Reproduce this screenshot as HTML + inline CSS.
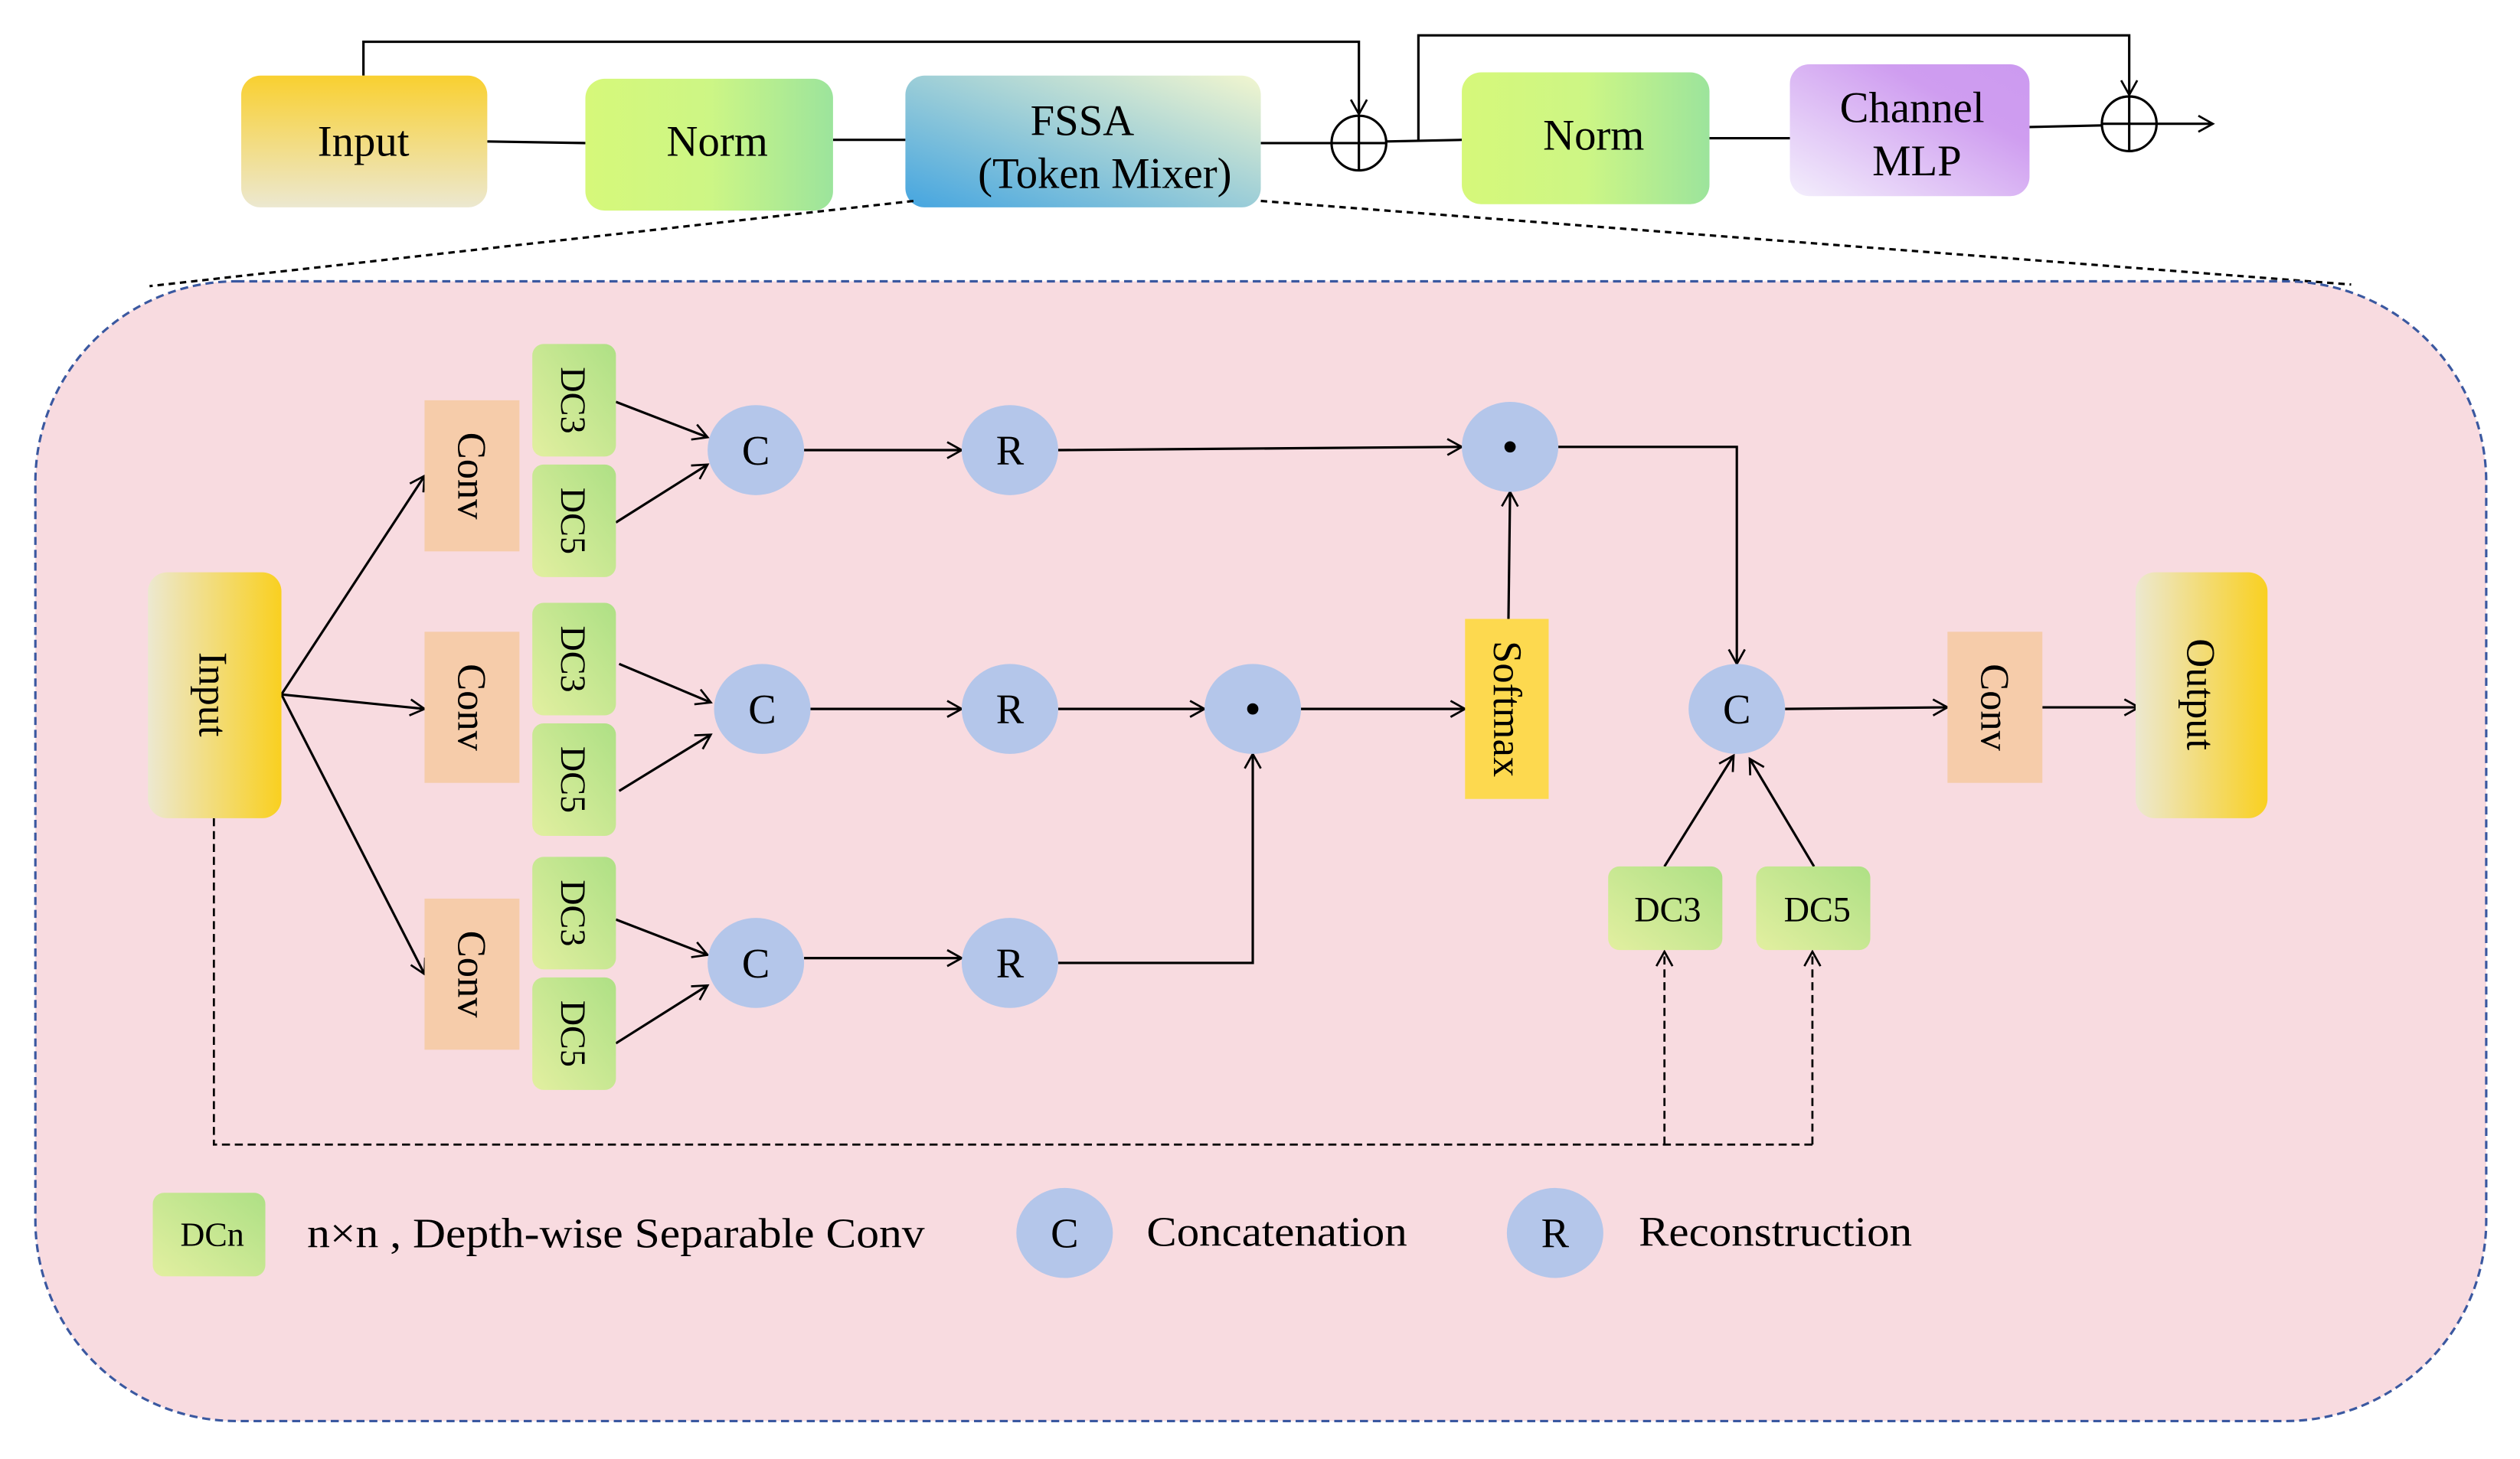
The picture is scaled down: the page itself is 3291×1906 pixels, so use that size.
<!DOCTYPE html>
<html><head><meta charset="utf-8"><style>html,body{margin:0;padding:0;background:#fff}svg{display:block}text{font-family:"Liberation Serif",serif}</style></head><body>
<svg width="3291" height="1906" viewBox="0 0 1567 907.6" preserveAspectRatio="none" xmlns="http://www.w3.org/2000/svg">
<defs>
<linearGradient id="gin" x1="0" y1="0" x2="0" y2="1"><stop offset="0" stop-color="#f9d030"/><stop offset="1" stop-color="#ece8d0"/></linearGradient>
<linearGradient id="gnorm" x1="0" y1="0" x2="1" y2="0"><stop offset="0" stop-color="#d6f87a"/><stop offset="0.5" stop-color="#cdf685"/><stop offset="1" stop-color="#9ce49c"/></linearGradient>
<linearGradient id="gfs" x1="0" y1="1" x2="1" y2="0"><stop offset="0" stop-color="#45a5e0"/><stop offset="1" stop-color="#f2f6cf"/></linearGradient>
<linearGradient id="gmlp" x1="0" y1="1" x2="1" y2="0"><stop offset="0" stop-color="#f3eefc"/><stop offset="0.7" stop-color="#cf9df0"/><stop offset="1" stop-color="#cc9af0"/></linearGradient>
<linearGradient id="ginh" x1="0" y1="0" x2="1" y2="0"><stop offset="0" stop-color="#ece8d0"/><stop offset="1" stop-color="#f9d020"/></linearGradient>
<linearGradient id="gdc" x1="0" y1="1" x2="1" y2="0"><stop offset="0" stop-color="#e2efa0"/><stop offset="1" stop-color="#aee085"/></linearGradient>
<marker id="ar" markerWidth="12" markerHeight="12" refX="10" refY="6" orient="auto" markerUnits="userSpaceOnUse"><path d="M1,1 L10,6 L1,11" fill="none" stroke="#000" stroke-width="1.3"/></marker>
</defs>
<g stroke="#000" stroke-width="1.5" fill="none">
<polyline points="226,47 226,26 845,26 845,71" marker-end="url(#ar)"/>
<polyline points="882,88 882,22 1324,22 1324,59" marker-end="url(#ar)"/>
<line x1="303" y1="88" x2="364" y2="89"/><line x1="518" y1="87" x2="563" y2="87"/>
<line x1="784" y1="89" x2="828" y2="89"/><line x1="862" y1="88" x2="909" y2="87"/>
<line x1="1063" y1="86" x2="1113" y2="86"/><line x1="1262" y1="79" x2="1307" y2="78"/>
<line x1="1341" y1="77" x2="1376" y2="77" marker-end="url(#ar)"/>
<circle cx="845" cy="89" r="17"/><line x1="828" y1="89" x2="862" y2="89"/><line x1="845" y1="72" x2="845" y2="106"/>
<circle cx="1324" cy="77" r="17"/><line x1="1307" y1="77" x2="1341" y2="77"/><line x1="1324" y1="60" x2="1324" y2="94"/>
</g>
<rect x="150" y="47" width="153" height="82" rx="12" fill="url(#gin)"/>
<rect x="364" y="49" width="154" height="82" rx="12" fill="url(#gnorm)"/>
<rect x="563" y="47" width="221" height="82" rx="12" fill="url(#gfs)"/>
<rect x="909" y="45" width="154" height="82" rx="12" fill="url(#gnorm)"/>
<rect x="1113" y="40" width="149" height="82" rx="12" fill="url(#gmlp)"/>
<g font-size="27" text-anchor="middle" fill="#000">
<text x="226" y="97">Input</text><text x="446" y="97">Norm</text>
<text x="673" y="84">FSSA</text><text x="687" y="117">(Token Mixer)</text>
<text x="991" y="93">Norm</text><text x="1189" y="76">Channel</text><text x="1192" y="109">MLP</text>
</g>
<g stroke="#000" stroke-width="1.5" stroke-dasharray="4,3" fill="none">
<line x1="568" y1="125" x2="93" y2="178"/><line x1="784" y1="125" x2="1462" y2="177"/>
</g>
<rect x="22" y="175" width="1524" height="709" rx="125" fill="#f8dbe0" stroke="#3a58a0" stroke-width="1.5" stroke-dasharray="5,3"/>
<g stroke="#000" stroke-width="1.5" fill="none">
<line x1="175" y1="432" x2="264" y2="296" marker-end="url(#ar)"/>
<line x1="175" y1="432" x2="264" y2="441" marker-end="url(#ar)"/>
<line x1="175" y1="432" x2="264" y2="606" marker-end="url(#ar)"/>
<line x1="383" y1="250" x2="440" y2="272" marker-end="url(#ar)"/>
<line x1="383" y1="325" x2="440" y2="289" marker-end="url(#ar)"/>
<line x1="385" y1="413" x2="442" y2="437" marker-end="url(#ar)"/>
<line x1="385" y1="492" x2="442" y2="457" marker-end="url(#ar)"/>
<line x1="383" y1="572" x2="440" y2="594" marker-end="url(#ar)"/>
<line x1="383" y1="649" x2="440" y2="613" marker-end="url(#ar)"/>
<line x1="500" y1="280" x2="598" y2="280" marker-end="url(#ar)"/>
<line x1="504" y1="441" x2="598" y2="441" marker-end="url(#ar)"/>
<line x1="500" y1="596" x2="598" y2="596" marker-end="url(#ar)"/>
<line x1="658" y1="280" x2="909" y2="278" marker-end="url(#ar)"/>
<line x1="658" y1="441" x2="749" y2="441" marker-end="url(#ar)"/>
<polyline points="658,599 779,599 779,469" marker-end="url(#ar)"/>
<line x1="809" y1="441" x2="911" y2="441" marker-end="url(#ar)"/>
<line x1="938" y1="385" x2="939" y2="306" marker-end="url(#ar)"/>
<polyline points="969,278 1080,278 1080,413" marker-end="url(#ar)"/>
<line x1="1110" y1="441" x2="1211" y2="440" marker-end="url(#ar)"/>
<line x1="1270" y1="440" x2="1330" y2="440" marker-end="url(#ar)"/>
<line x1="1035" y1="539" x2="1078" y2="470" marker-end="url(#ar)"/>
<line x1="1128" y1="539" x2="1088" y2="472" marker-end="url(#ar)"/>
</g>
<g stroke="#000" stroke-width="1.3" fill="none" stroke-dasharray="5,3">
<polyline points="133,509 133,712 1127,712"/>
<polyline points="1035,712 1035,592" marker-end="url(#ar)"/>
<polyline points="1127,712 1127,592" marker-end="url(#ar)"/>
</g>
<rect x="92" y="356" width="83" height="153" rx="12" fill="url(#ginh)"/>
<g fill="#f6ccaa"><rect x="264" y="249" width="59" height="94"/><rect x="264" y="393" width="59" height="94"/><rect x="264" y="559" width="59" height="94"/><rect x="1211" y="393" width="59" height="94"/></g>
<g fill="url(#gdc)">
<rect x="331" y="214" width="52" height="70" rx="7"/><rect x="331" y="289" width="52" height="70" rx="7"/>
<rect x="331" y="375" width="52" height="70" rx="7"/><rect x="331" y="450" width="52" height="70" rx="7"/>
<rect x="331" y="533" width="52" height="70" rx="7"/><rect x="331" y="608" width="52" height="70" rx="7"/>
<rect x="1000" y="539" width="71" height="52" rx="7"/><rect x="1092" y="539" width="71" height="52" rx="7"/>
<rect x="95" y="742" width="70" height="52" rx="7"/>
</g>
<rect x="911" y="385" width="52" height="112" fill="#fdd94f"/>
<rect x="1328" y="356" width="82" height="153" rx="12" fill="url(#ginh)"/>
<g fill="#b4c6ea">
<ellipse cx="470" cy="280" rx="30" ry="28"/><ellipse cx="628" cy="280" rx="30" ry="28"/>
<ellipse cx="474" cy="441" rx="30" ry="28"/><ellipse cx="628" cy="441" rx="30" ry="28"/><ellipse cx="779" cy="441" rx="30" ry="28"/>
<ellipse cx="470" cy="599" rx="30" ry="28"/><ellipse cx="628" cy="599" rx="30" ry="28"/>
<ellipse cx="939" cy="278" rx="30" ry="28"/><ellipse cx="1080" cy="441" rx="30" ry="28"/>
<ellipse cx="662" cy="767" rx="30" ry="28"/><ellipse cx="967" cy="767" rx="30" ry="28"/>
</g>
<g fill="#000"><circle cx="779" cy="441" r="3.5"/><circle cx="939" cy="278" r="3.5"/></g>
<g font-size="26" text-anchor="middle" fill="#000">
<text x="470" y="289">C</text><text x="628" y="289">R</text>
<text x="474" y="450">C</text><text x="628" y="450">R</text>
<text x="470" y="608">C</text><text x="628" y="608">R</text>
<text x="1080" y="450">C</text>
<text x="662" y="776">C</text><text x="967" y="776">R</text>
</g>
<g font-size="25" text-anchor="middle" fill="#000">
<text transform="translate(124,432) rotate(90)">Input</text>
<text transform="translate(285,296) rotate(90)">Conv</text>
<text transform="translate(285,440) rotate(90)">Conv</text>
<text transform="translate(285,606) rotate(90)">Conv</text>
<text transform="translate(1232,440) rotate(90)">Conv</text>
<text transform="translate(1360,432) rotate(90)">Output</text>
<text transform="translate(929,441) rotate(90)">Softmax</text>
</g>
<g font-size="22" text-anchor="middle" fill="#000">
<text transform="translate(349,249) rotate(90)">DC3</text><text transform="translate(349,324) rotate(90)">DC5</text>
<text transform="translate(349,410) rotate(90)">DC3</text><text transform="translate(349,485) rotate(90)">DC5</text>
<text transform="translate(349,568) rotate(90)">DC3</text><text transform="translate(349,643) rotate(90)">DC5</text>
<text x="1037" y="573">DC3</text><text x="1130" y="573">DC5</text>
<text x="132" y="775" font-size="21">DCn</text>
</g>
<g font-size="26" fill="#000">
<text x="191" y="776" textLength="384" lengthAdjust="spacingAndGlyphs">n×n , Depth-wise Separable Conv</text>
<text x="713" y="775" textLength="162" lengthAdjust="spacingAndGlyphs">Concatenation</text>
<text x="1019" y="775" textLength="170" lengthAdjust="spacingAndGlyphs">Reconstruction</text>
</g>
</svg>
</body></html>
